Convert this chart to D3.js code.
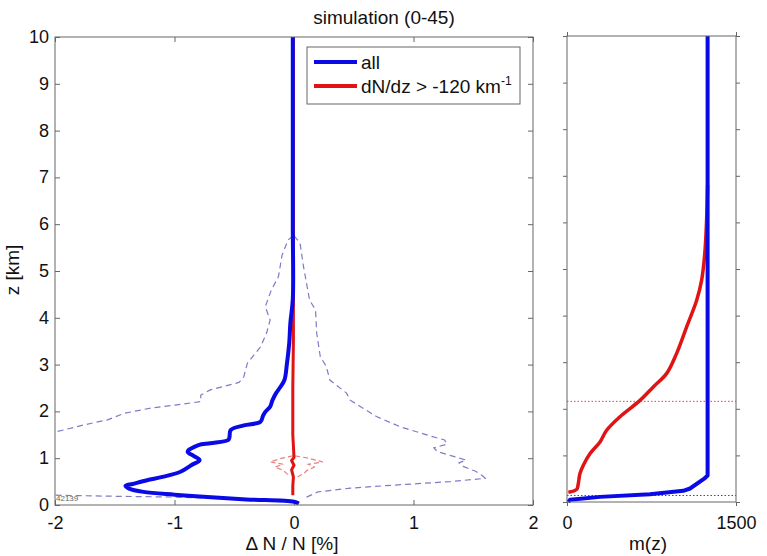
<!DOCTYPE html>
<html lang="en">
<head>
<meta charset="UTF-8">
<title>simulation (0-45)</title>
<script src="https://cdn.jsdelivr.net/npm/d3@7"></script>
<style>
    body { margin: 0; background: #fff; }
    svg { font-family: "Liberation Sans", Arial, sans-serif; }
    .box { fill: none; stroke: #666; stroke-width: 1; }
    .tick line { stroke: #666; }
    .domain { display: none; }
</style>
</head>
<body>
<svg width="767" height="556"></svg>
<script>
// tick values
const zTicks = d3.range(0, 11);
const dnTicks = [-2, -1, 0, 1, 2];
const mTicks = [0, 1500];

// left panel: delta N / N [%] profiles, as [z (km), value]
const dnAll = [
    [10, -0.01], [6, -0.01], [4.4, -0.01], [3.9, -0.03], [3.46, -0.04], [3.0, -0.06],
    [2.67, -0.08], [2.5, -0.12], [2.39, -0.15], [2.24, -0.18], [2.1, -0.2], [1.99, -0.24],
    [1.9, -0.26], [1.78, -0.28], [1.7, -0.42], [1.6, -0.53], [1.45, -0.54], [1.39, -0.55],
    [1.32, -0.7], [1.28, -0.8], [1.14, -0.89], [1.05, -0.84], [0.96, -0.79], [0.85, -0.86],
    [0.71, -0.95], [0.6, -1.1], [0.53, -1.23], [0.45, -1.35], [0.41, -1.41], [0.35, -1.38],
    [0.28, -1.26], [0.22, -1.0], [0.18, -0.79], [0.12, -0.4], [0.07, 0.0], [0.03, 0.04]
];
const dnSel = [
    [10, -0.005], [4.3, -0.005], [3.5, -0.005], [2.5, -0.01], [1.5, -0.01], [1.02, 0.0],
    [0.95, -0.02], [0.85, 0.0], [0.75, -0.02], [0.6, -0.005], [0.4, -0.01], [0.21, -0.01]
];
const dnAllLow = [
    [5.75, -0.01], [5.66, -0.05], [5.34, -0.1], [4.88, -0.13], [4.59, -0.19], [4.24, -0.24],
    [3.95, -0.2], [3.67, -0.23], [3.38, -0.28], [3.03, -0.39], [2.74, -0.42], [2.62, -0.46],
    [2.46, -0.7], [2.35, -0.78], [2.21, -0.78], [2.14, -0.98], [2.07, -1.2], [1.96, -1.42],
    [1.82, -1.56], [1.71, -1.76], [1.57, -1.98], [1.5, -2.2], [0.9, -2.6], [0.23, -2.2],
    [0.21, -2.0], [0.19, -1.6], [0.17, -1.0], [0.12, -0.4], [0.05, 0.0]
];
const dnAllHigh = [
    [5.75, 0.0], [5.6, 0.05], [5.09, 0.08], [4.38, 0.13], [4.17, 0.18], [3.67, 0.19],
    [3.17, 0.22], [2.96, 0.27], [2.67, 0.3], [2.39, 0.44], [2.24, 0.47], [1.89, 0.69],
    [1.67, 0.89], [1.46, 1.16], [1.39, 1.26], [1.3, 1.28], [1.22, 1.17], [1.14, 1.2],
    [1.05, 1.32], [0.96, 1.44], [0.9, 1.38], [0.82, 1.42], [0.72, 1.52], [0.62, 1.58],
    [0.57, 1.6], [0.5, 1.31], [0.41, 0.75], [0.36, 0.47], [0.28, 0.2], [0.14, 0.08]
];
const dnSelLow = [
    [1.05, -0.01], [1.0, -0.1], [0.92, -0.2], [0.87, -0.09], [0.81, -0.16], [0.74, -0.09],
    [0.67, -0.06], [0.62, -0.03]
];
const dnSelHigh = [
    [1.05, 0.01], [1.0, 0.12], [0.92, 0.24], [0.87, 0.12], [0.81, 0.17], [0.74, 0.11],
    [0.67, 0.08], [0.6, 0.03]
];

// right panel: m(z), as [z (km), m]
const mAll = [
    [10, 1248], [6, 1248], [0.57, 1248], [0.5, 1218], [0.29, 1092], [0.24, 1032],
    [0.165, 736], [0.11, 293], [0.05, 27], [0.0, 10]
];
const mSel = [
    [0.21, 12], [0.27, 86], [0.39, 100], [0.61, 115], [0.79, 145], [1.04, 205],
    [1.29, 293], [1.54, 352], [1.83, 470], [2.18, 648], [2.47, 766], [2.76, 885],
    [3.19, 973], [3.76, 1062], [4.33, 1151], [4.76, 1195], [5.4, 1225], [6.12, 1240], [6.8, 1248]
];
const zLevelSel = 2.16;
const zLevelAll = 0.14;

const blue = "#0a0ae6";
const red = "#e01414";

const svg = d3.select("svg");
const fmt = d => String(d);

// ---------- left panel ----------
const x1 = d3.scaleLinear().domain([-2, 2]).range([55, 533]);
const y1 = d3.scaleLinear().domain([0, 10]).range([505, 37]);

svg.append("defs").append("clipPath").attr("id", "clipL")
    .append("rect")
    .attr("x", x1(-2)).attr("y", y1(10))
    .attr("width", x1(2) - x1(-2)).attr("height", y1(0) - y1(10));

const tickFont = g => g.selectAll("text").style("font-size", "18px").attr("fill", "#111");

svg.append("g").attr("transform", `translate(${x1(-2)},0)`)
    .call(d3.axisLeft(y1).tickValues(zTicks).tickSize(-5).tickSizeOuter(0).tickPadding(6).tickFormat(fmt))
    .call(tickFont)
    .call(g => g.selectAll("text").attr("dy", "0.3em"));
svg.append("g").attr("transform", `translate(${x1(2)},0)`)
    .call(d3.axisRight(y1).tickValues(zTicks).tickSize(-5).tickSizeOuter(0).tickFormat(""));
svg.append("g").attr("transform", `translate(0,${y1(0)})`)
    .call(d3.axisBottom(x1).tickValues(dnTicks).tickSize(-5).tickSizeOuter(0).tickPadding(11).tickFormat(fmt))
    .call(tickFont);
svg.append("g").attr("transform", `translate(0,${y1(10)})`)
    .call(d3.axisTop(x1).tickValues(dnTicks).tickSize(-5).tickSizeOuter(0).tickFormat(""));

const lineL = d3.line().x(d => x1(d[1])).y(d => y1(d[0]));
const plotL = svg.append("g").attr("clip-path", "url(#clipL)");

[dnAllLow, dnAllHigh].forEach(s => {
    plotL.append("path").datum(s).attr("d", lineL)
        .attr("fill", "none").attr("stroke", "#7c7cc8")
        .attr("stroke-width", 1.2).attr("stroke-dasharray", "6,4");
});
[dnSelLow, dnSelHigh].forEach(s => {
    plotL.append("path").datum(s).attr("d", lineL)
        .attr("fill", "none").attr("stroke", "#e88080")
        .attr("stroke-width", 1.2).attr("stroke-dasharray", "5,3");
});
plotL.append("path").datum(dnSel).attr("d", lineL)
    .attr("fill", "none").attr("stroke", red).attr("stroke-width", 3);
plotL.append("path").datum(dnAll).attr("d", lineL.curve(d3.curveCatmullRom))
    .attr("fill", "none").attr("stroke", blue).attr("stroke-width", 4)
    .attr("stroke-linejoin", "round");

svg.append("rect").attr("class", "box")
    .attr("x", x1(-2)).attr("y", y1(10))
    .attr("width", x1(2) - x1(-2)).attr("height", y1(0) - y1(10));

svg.append("text").attr("x", x1(-2) + 1).attr("y", y1(0) - 4)
    .style("font-size", "8px").attr("fill", "#666").text("42139");

// legend
const leg = svg.append("g");
leg.append("rect").attr("x", 307).attr("y", 47).attr("width", 213).attr("height", 57)
    .attr("fill", "#fff").attr("stroke", "#666");
const legItems = [
    { label: "all", color: blue, y: 62 },
    { label: "dN/dz > -120 km", color: red, y: 86 }
];
legItems.forEach((d, i) => {
    leg.append("line").attr("x1", 314).attr("x2", 357).attr("y1", d.y).attr("y2", d.y)
        .attr("stroke", d.color).attr("stroke-width", 4);
    const t = leg.append("text").attr("x", 361).attr("y", d.y + 6.5)
        .style("font-size", "19px").attr("fill", "#111").text(d.label);
    if (i === 1) {
        t.append("tspan").attr("dy", -8).style("font-size", "12px").text("-1");
    }
});

// title and labels
svg.append("text").attr("x", 384).attr("y", 24).attr("text-anchor", "middle")
    .style("font-size", "19px").attr("fill", "#111").text("simulation (0-45)");
svg.append("text").attr("x", 292).attr("y", 550).attr("text-anchor", "middle")
    .style("font-size", "19px").attr("fill", "#111").text("\u0394 N / N [%]");
svg.append("text").attr("transform", "translate(19,270) rotate(-90)")
    .attr("text-anchor", "middle")
    .style("font-size", "19px").attr("fill", "#111").text("z [km]");

// ---------- right panel ----------
const x2 = d3.scaleLinear().domain([0, 1500]).range([567, 736]);
const y2 = d3.scaleLinear().domain([0, 10]).range([502, 36]);

svg.append("g").attr("transform", `translate(${x2(0)},0)`)
    .call(d3.axisLeft(y2).tickValues(zTicks).tickSize(4).tickSizeOuter(0).tickFormat(""));
svg.append("g").attr("transform", `translate(${x2(1500)},0)`)
    .call(d3.axisRight(y2).tickValues(zTicks).tickSize(4).tickSizeOuter(0).tickFormat(""));
svg.append("g").attr("transform", `translate(0,${y2(0)})`)
    .call(d3.axisBottom(x2).tickValues(mTicks).tickSize(4).tickSizeOuter(0).tickPadding(10).tickFormat(fmt))
    .call(tickFont);
svg.append("g").attr("transform", `translate(0,${y2(10)})`)
    .call(d3.axisTop(x2).tickValues(mTicks).tickSize(4).tickSizeOuter(0).tickFormat(""));

const lineR = d3.line().x(d => x2(d[1])).y(d => y2(d[0]));

[[zLevelSel, red], [zLevelAll, blue]].forEach(([z, c]) => {
    svg.append("line").attr("x1", x2(0)).attr("x2", x2(1500))
        .attr("y1", y2(z)).attr("y2", y2(z))
        .attr("stroke", c).attr("stroke-width", 1).attr("stroke-dasharray", "1.5,2")
        .attr("opacity", 0.8);
});
svg.append("path").datum(mSel).attr("d", lineR.curve(d3.curveCatmullRom))
    .attr("fill", "none").attr("stroke", red).attr("stroke-width", 3.5)
    .attr("stroke-linejoin", "round");
svg.append("path").datum(mAll).attr("d", lineR.curve(d3.curveLinear))
    .attr("fill", "none").attr("stroke", blue).attr("stroke-width", 4)
    .attr("stroke-linejoin", "round");

svg.append("rect").attr("class", "box")
    .attr("x", x2(0)).attr("y", y2(10))
    .attr("width", x2(1500) - x2(0)).attr("height", y2(0) - y2(10));

svg.append("text").attr("x", 648).attr("y", 550).attr("text-anchor", "middle")
    .style("font-size", "19px").attr("fill", "#111").text("m(z)");
</script>
</body>
</html>
